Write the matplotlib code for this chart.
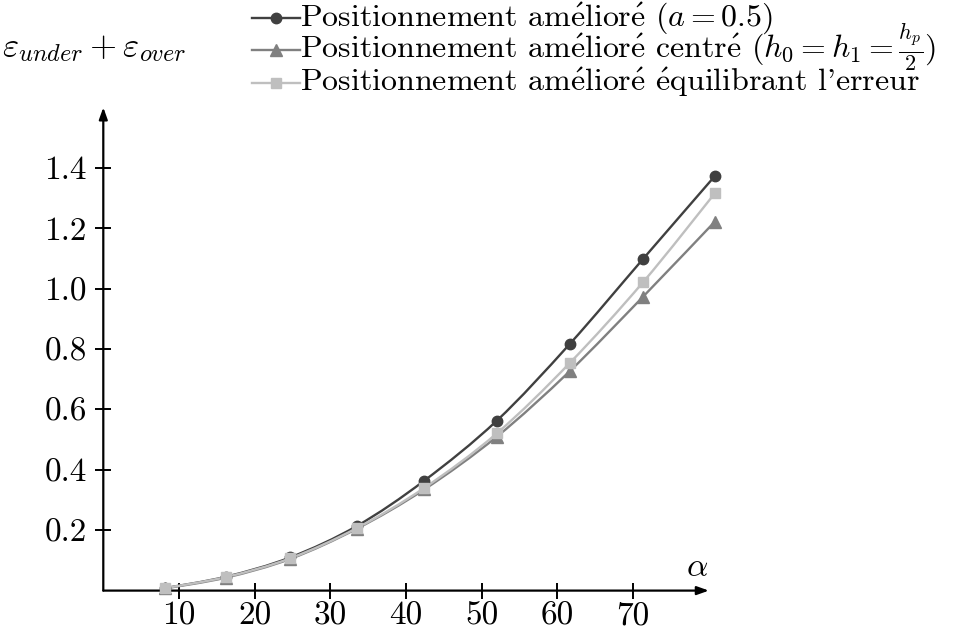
import numpy as np
import matplotlib
matplotlib.use("Agg")
import matplotlib.pyplot as plt
from matplotlib.path import Path
from matplotlib.patches import PathPatch
from matplotlib.lines import Line2D

# Angle alpha (degrees) and summed error for the three placement strategies
alpha = [8.1, 16.2, 24.7, 33.5, 42.4, 52.0, 61.6, 71.3, 80.8]
err_a05 = [0.008, 0.046, 0.110, 0.214, 0.364, 0.563, 0.816, 1.098, 1.373]
err_centre = [0.007, 0.043, 0.105, 0.205, 0.335, 0.510, 0.726, 0.973, 1.222]
err_equil = [0.008, 0.045, 0.107, 0.207, 0.340, 0.521, 0.753, 1.021, 1.316]

xticks = [10, 20, 30, 40, 50, 60, 70]
yticks = [0.2, 0.4, 0.6, 0.8, 1.0, 1.2, 1.4]

series_labels = [
    r"Positionnement am$\acute{\mathrm{e}}$lior$\acute{\mathrm{e}}$ ($a = 0.5$)",
    r"Positionnement am$\acute{\mathrm{e}}$lior$\acute{\mathrm{e}}$ centr$\acute{\mathrm{e}}$ ($h_0 = h_1 = \frac{h_p}{2}$)",
    r"Positionnement am$\acute{\mathrm{e}}$lior$\acute{\mathrm{e}}$ $\acute{\mathrm{e}}$quilibrant l'erreur",
]
colors = ["#404040", "#808080", "#bfbfbf"]
markers = ["o", "^", "s"]
msizes = [7.5, 8, 7]

plt.rcParams["font.family"] = ["cmr10", "DejaVu Serif"]
plt.rcParams["mathtext.fontset"] = "cm"
plt.rcParams["axes.unicode_minus"] = False
plt.rcParams["axes.formatter.use_mathtext"] = True

W, H = 964, 639
fig = plt.figure(figsize=(W / 100, H / 100), dpi=100)
ax = fig.add_axes([103.3 / W, (H - 590.6) / H, 620.7 / W, 498.3 / H])
ax.set_xlim(0, 82)
ax.set_ylim(0, 1.65)
for s in ax.spines.values():
    s.set_visible(False)
ax.patch.set_visible(False)


def smooth_path(x, y, tension=0.5):
    """Cubic Bezier through the points (Catmull-Rom style tangents)."""
    p = np.column_stack([x, y]).astype(float)
    n = len(p)
    verts = [p[0]]
    codes = [Path.MOVETO]
    for i in range(n - 1):
        p0 = p[i - 1] if i > 0 else p[i]
        p1, p2 = p[i], p[i + 1]
        p3 = p[i + 2] if i + 2 < n else p[i + 1]
        c1 = p1 + (p2 - p0) * tension / 3.0
        c2 = p2 - (p3 - p1) * tension / 3.0
        verts += [c1, c2, p2]
        codes += [Path.CURVE4] * 3
    return Path(verts, codes)


series = [err_a05, err_centre, err_equil]
for vals, c, m, ms in zip(series, colors, markers, msizes):
    ax.add_patch(PathPatch(smooth_path(alpha, vals), facecolor="none",
                           edgecolor=c, lw=1.7, clip_on=False, zorder=3))
    ax.plot(alpha, vals, linestyle="none", marker=m, ms=ms, color=c,
            markeredgecolor=c, clip_on=False, zorder=4)

# Axis lines with arrow heads
arrow_kw = dict(arrowstyle="-|>,head_length=0.7,head_width=0.25", color="black",
                lw=1.6, shrinkA=0, shrinkB=0)
ax.annotate("", xy=(80, 0), xytext=(0, 0), arrowprops=arrow_kw,
            annotation_clip=False, zorder=2)
ax.annotate("", xy=(0, 1.6), xytext=(0, 0), arrowprops=arrow_kw,
            annotation_clip=False, zorder=2)

ax.set_xticks(xticks)
ax.set_xticklabels([str(t) for t in xticks])
ax.set_yticks(yticks)
ax.set_yticklabels([f"{t:.1f}" for t in yticks])
ax.tick_params(axis="both", direction="inout", length=12, width=1.4,
               labelsize=24, color="black")
ax.tick_params(axis="x", pad=2)
ax.tick_params(axis="y", pad=6)

ax.text(78.5, 0.075, r"$\alpha$", fontsize=24, ha="center", va="center")
fig.text(2 / W, 1 - 48 / H, r"$\varepsilon_{under}+\varepsilon_{over}$",
         fontsize=25, ha="left", va="center")

# Legend rows: short line with centred marker, then the label
row_y = [18, 50, 83]
for yy, c, m, ms, lab in zip(row_y, colors, markers, msizes, series_labels):
    yf = 1 - yy / H
    fig.add_artist(Line2D([252 / W, 276 / W, 300 / W], [yf, yf, yf],
                          transform=fig.transFigure, color=c, lw=1.7,
                          marker=m, ms=ms, markevery=[1]))
    fig.text(300 / W, 1 - (yy + 8) / H, lab, fontsize=23,
             ha="left", va="baseline")

fig.savefig("out.png", dpi=100)
